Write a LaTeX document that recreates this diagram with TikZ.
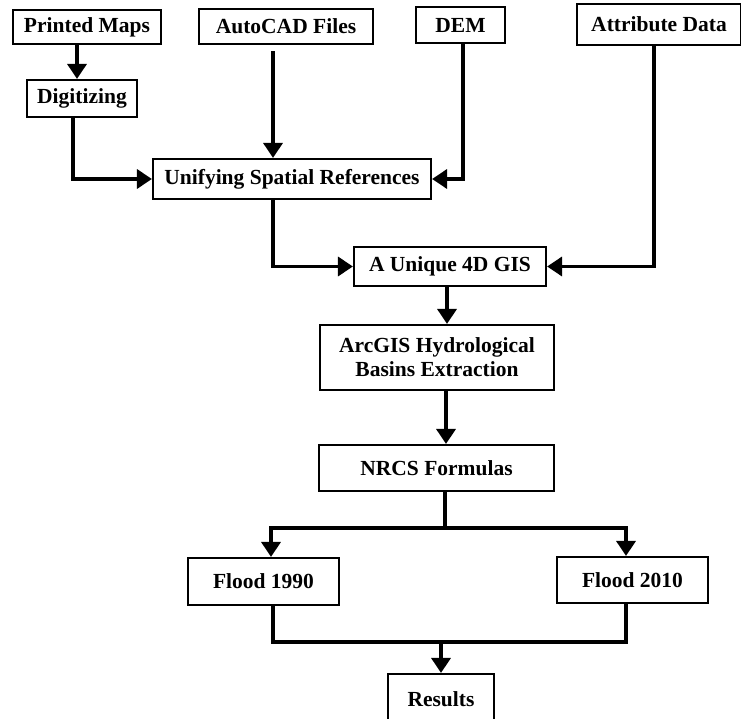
\documentclass[tikz,border=0pt]{standalone}
\usepackage{fontspec}
\setmainfont{Liberation Serif}
\usetikzlibrary{arrows.meta}
\tikzstyle{arrow} = [line width=3.3pt,-{Triangle[width=19pt,length=15pt]}]
\tikzstyle{link} = [line width=3.3pt]

\begin{document}
\begin{tikzpicture}[x=1pt,y=-1pt,every node/.style={shape=rectangle,draw,line width=2.1pt,inner sep=0pt,align=center,font=\fontsize{21.5pt}{24pt}\selectfont\bfseries}]
    \useasboundingbox (0,0) rectangle (741,719);
    % create the nodes
    \node (pm) at (87,27) [minimum width=148pt, minimum height=34pt] {Printed Maps};
    \node (acad) at (286,26.5) [minimum width=174pt, minimum height=35pt] {AutoCAD Files};
    \node (dem) at (460.5,25) [minimum width=89pt, minimum height=36pt] {DEM};
    \node (attr) at (659,24.5) [minimum width=164pt, minimum height=41pt] {Attribute Data};
    \node (dig) at (82,98.5) [minimum width=110pt, minimum height=37pt] {Digitizing};
    \node (usr) at (292,179) [minimum width=278pt, minimum height=40pt] {Unifying Spatial References};
    \node (gis) at (450,266.5) [minimum width=192pt, minimum height=39pt] {A Unique 4D GIS};
    \node (arc) at (437,357.5) [minimum width=234pt, minimum height=65pt] {ArcGIS Hydrological\\Basins Extraction};
    \node (nrcs) at (436.5,468) [minimum width=235pt, minimum height=46pt] {NRCS Formulas};
    \node (f90) at (263.5,581.5) [minimum width=151pt, minimum height=47pt] {Flood 1990};
    \node (f10) at (632.5,580) [minimum width=151pt, minimum height=46pt] {Flood 2010};
    \node (res) at (441,699) [minimum width=106pt, minimum height=50pt] {Results};
    % points where the lines leave the boxes
    \coordinate (pmout) at ([xshift=-10pt]pm.south);
    \coordinate (digout) at ([xshift=-9pt]dig.south);
    \coordinate (acadout) at ([xshift=-13pt,yshift=-6pt]acad.south);
    \coordinate (demout) at ([xshift=2.5pt]dem.south);
    \coordinate (usrout) at ([xshift=-19pt]usr.south);
    \coordinate (attrout) at ([xshift=-5pt]attr.south);
    \coordinate (gisout) at ([xshift=-3pt]gis.south);
    \coordinate (arcout) at ([xshift=9pt]arc.south);
    \coordinate (f90in) at ([xshift=7.5pt]f90.north);
    \coordinate (f10in) at ([xshift=-6.5pt]f10.north);
    \coordinate (f90out) at ([xshift=9.5pt]f90.south);
    \coordinate (f10out) at ([xshift=-6.5pt]f10.south);
    \coordinate (split) at (445,528);
    \coordinate (join) at (441,642);
    % connect the nodes
    \draw[arrow] (pmout) -- (pmout |- dig.north);
    \draw[arrow] (digout) |- (usr.west);
    \draw[arrow] (acadout) -- (acadout |- usr.north);
    \draw[arrow] (demout) |- (usr.east);
    \draw[arrow] (usrout) |- (gis.west);
    \draw[arrow] (attrout) |- (gis.east);
    \draw[arrow] (gisout) -- (gisout |- arc.north);
    \draw[arrow] (arcout) -- (arcout |- nrcs.north);
    \draw[link] (split |- nrcs.south) -- (split);
    \draw[arrow] (split) -| (f90in);
    \draw[arrow] (split) -| (f10in);
    \draw[link] (f90out) |- (join);
    \draw[link] (f10out) |- (join);
    \draw[arrow] (join) -- (res.north);
\end{tikzpicture}
\end{document}
